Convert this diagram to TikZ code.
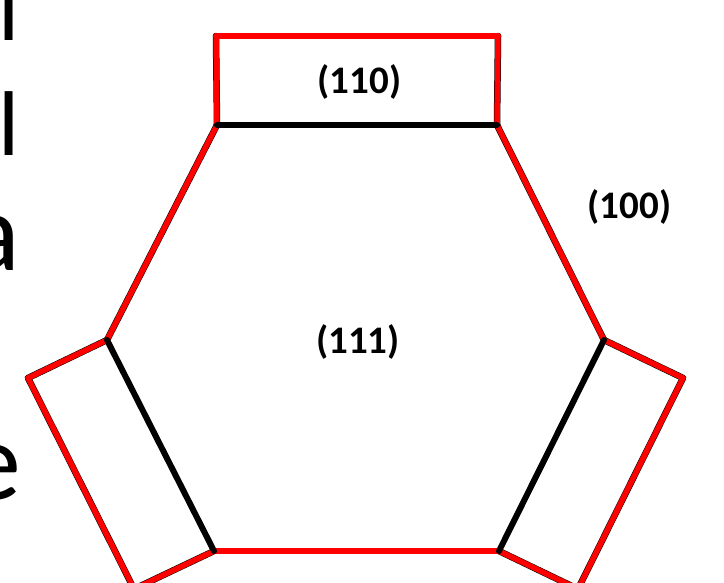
\documentclass[tikz,border=0pt]{standalone}
\usepackage{fontspec}
\setmainfont{Carlito}
\begin{document}
\begin{tikzpicture}[x=1pt,y=-1pt,
  redline/.style={draw=red,line width=5.5pt,line join=miter,line cap=round},
  blackline/.style={draw=black,line width=6pt,line cap=round},
  edgeunder/.style={draw=black,line width=6.5pt,line cap=round},
  facelabel/.style={font=\fontsize{39}{46}\selectfont\bfseries,inner sep=0pt},
  bigtext/.style={inner sep=0pt,anchor=base east}]
\useasboundingbox (0,0) rectangle (724,582);
\clip (0,0) rectangle (724,582);
% vertices
\coordinate (TL) at (217,125);
\coordinate (TR) at (497,125);
\coordinate (R) at (604,340);
\coordinate (BR) at (499,551);
\coordinate (BL) at (214,551);
\coordinate (L) at (107,340);
\coordinate (T1) at (216,36);
\coordinate (T2) at (498,36);
\coordinate (LO1) at (28,378);
\coordinate (LO2) at (134,589);
\coordinate (RO1) at (683,378);
\coordinate (RO2) at (578,589);
% black underlay
\foreach \a/\b in {TL/L,TR/R,BL/BR,T1/T2,T1/TL,T2/TR,L/LO1,LO1/LO2,BL/LO2,R/RO1,RO1/RO2,BR/RO2}
  \draw[edgeunder] (\a) -- (\b);
% red edges
\foreach \a/\b in {TL/L,TR/R,BL/BR,T1/T2,T1/TL,T2/TR,L/LO1,LO1/LO2,BL/LO2,R/RO1,RO1/RO2,BR/RO2}
  \draw[redline] (\a) -- (\b);
% black edges
\draw[blackline] (TL) -- (TR);
\draw[blackline] (L) -- (BL);
\draw[blackline] (R) -- (BR);
% labels
\node[facelabel] (l110) at (359.5,82) {(110)};
\node[facelabel] (l100) at (629.5,207) {(100)};
\node[facelabel] (l111) at (358,342) {(111)};
% cut-off text at the left
\node[bigtext,font=\fontsize{92}{110}\selectfont] (t1) at (20,40) {l};
\node[bigtext,font=\fontsize{92}{110}\selectfont] (t2) at (20,155) {l};
\node[bigtext,font=\fontsize{112}{130}\selectfont] (t3) at (20,270) {a};
\node[bigtext,font=\fontsize{112}{130}\selectfont] (t4) at (21,499) {e};
\end{tikzpicture}
\end{document}
